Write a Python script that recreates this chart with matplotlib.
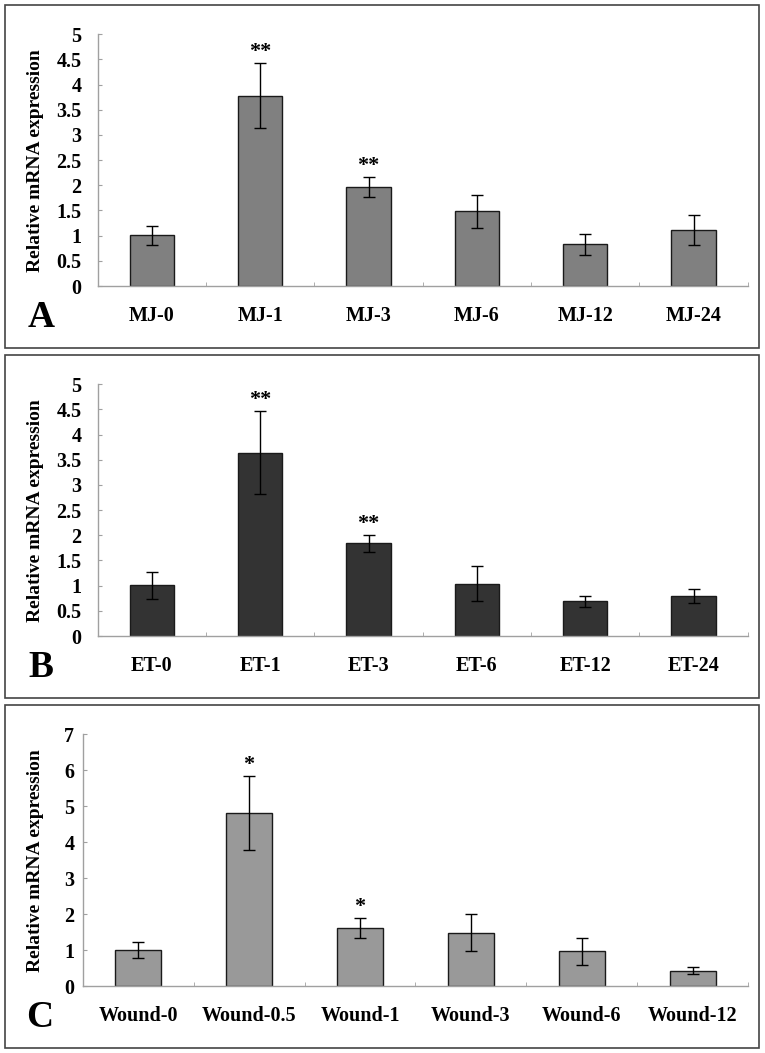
import matplotlib
matplotlib.use("Agg")
import matplotlib.pyplot as plt
from matplotlib.patches import Rectangle
import numpy as np

plt.rcParams['font.family'] = ['Liberation Serif', 'DejaVu Serif']
plt.rcParams['font.weight'] = 'bold'

# ---- data ----
mj_labels = ["MJ-0", "MJ-1", "MJ-3", "MJ-6", "MJ-12", "MJ-24"]
mj_values = [1.01, 3.78, 1.96, 1.48, 0.83, 1.11]
mj_errors = [0.19, 0.64, 0.20, 0.32, 0.21, 0.30]
mj_sig = ["", "**", "**", "", "", ""]

et_labels = ["ET-0", "ET-1", "ET-3", "ET-6", "ET-12", "ET-24"]
et_values = [1.01, 3.64, 1.84, 1.04, 0.69, 0.80]
et_errors = [0.27, 0.82, 0.17, 0.35, 0.11, 0.14]
et_sig = ["", "**", "**", "", "", ""]

wd_labels = ["Wound-0", "Wound-0.5", "Wound-1", "Wound-3", "Wound-6", "Wound-12"]
wd_values = [0.99, 4.81, 1.61, 1.48, 0.96, 0.43]
wd_errors = [0.22, 1.03, 0.28, 0.52, 0.37, 0.11]
wd_sig = ["", "*", "*", "", "", ""]

W, H = 765, 1053
fig = plt.figure(figsize=(W / 100, H / 100), dpi=100)

def px_rect(l, t, r, b):
    return [l / W, 1 - b / H, (r - l) / W, (b - t) / H]

panels = [
    dict(labels=mj_labels, values=mj_values, errors=mj_errors, sig=mj_sig,
         color="#808080", axes=(97.7, 34.3, 747.7, 286), box=(5, 5, 759, 348),
         ymax=5, step=0.5, letter="A", letter_pos=(41, 327), ypad=11.5),
    dict(labels=et_labels, values=et_values, errors=et_errors, sig=et_sig,
         color="#333333", axes=(97.7, 384.3, 747.7, 636), box=(5, 355, 759, 698),
         ymax=5, step=0.5, letter="B", letter_pos=(41, 677), ypad=11.5),
    dict(labels=wd_labels, values=wd_values, errors=wd_errors, sig=wd_sig,
         color="#999999", axes=(82.7, 734.3, 748.3, 986), box=(5, 705, 759, 1048),
         ymax=7, step=1, letter="C", letter_pos=(40, 1027), ypad=6),
]

def fmt(v):
    s = ("%.1f" % v)
    return s[:-2] if s.endswith(".0") else s

for p in panels:
    # outer frame
    l, t, r, b = p["box"]
    fig.patches.append(Rectangle((l / W, 1 - b / H), (r - l) / W, (b - t) / H,
                                 transform=fig.transFigure, fill=False,
                                 edgecolor="#444444", linewidth=1.2))
    ax = fig.add_axes(px_rect(*p["axes"]))
    x = np.arange(len(p["labels"]))
    ax.bar(x, p["values"], width=0.41, color=p["color"], edgecolor="#1a1a1a",
           linewidth=1.0, zorder=2)
    ax.errorbar(x, p["values"], yerr=p["errors"], fmt="none", ecolor="black",
                elinewidth=1.0, capsize=4.5, capthick=1.0, zorder=3)
    for xi, v, e, s in zip(x, p["values"], p["errors"], p["sig"]):
        if s:
            ax.annotate(s, (xi, v + e), xytext=(0, 8), textcoords="offset points",
                        ha="center", va="center", fontsize=16, fontweight="bold")
    ax.set_xlim(-0.5, len(x) - 0.5)
    ax.set_ylim(0, p["ymax"])
    yt = np.arange(0, p["ymax"] + 1e-9, p["step"])
    ax.set_yticks(yt)
    ax.set_yticklabels([fmt(v) for v in yt])
    ax.set_xticks(x)
    ax.set_xticklabels(p["labels"])
    ax.set_xticks(np.arange(-0.5, len(x)), minor=True)
    for side in ["top", "right"]:
        ax.spines[side].set_visible(False)
    for side in ["left", "bottom"]:
        ax.spines[side].set_color("#a0a0a0")
        ax.spines[side].set_linewidth(1.0)
    ax.tick_params(axis="y", direction="in", length=3, color="#a0a0a0",
                   labelsize=14.5, pad=p["ypad"])
    ax.tick_params(axis="x", which="major", length=0, labelsize=14.5, pad=14.5)
    ax.tick_params(axis="x", which="minor", direction="in", length=3,
                   color="#a0a0a0")
    for lab in ax.get_xticklabels() + ax.get_yticklabels():
        lab.set_fontweight("bold")
    ax.patch.set_alpha(0)
    ycen = (p["axes"][1] + p["axes"][3]) / 2
    fig.text(36 / W, 1 - ycen / H, "Relative mRNA expression", rotation=90,
             ha="center", va="center", fontsize=14, fontweight="bold")
    lx, ly = p["letter_pos"]
    fig.text(lx / W, 1 - ly / H, p["letter"], ha="center", va="baseline",
             fontsize=27, fontweight="bold")

fig.savefig("out.png", dpi=100)
